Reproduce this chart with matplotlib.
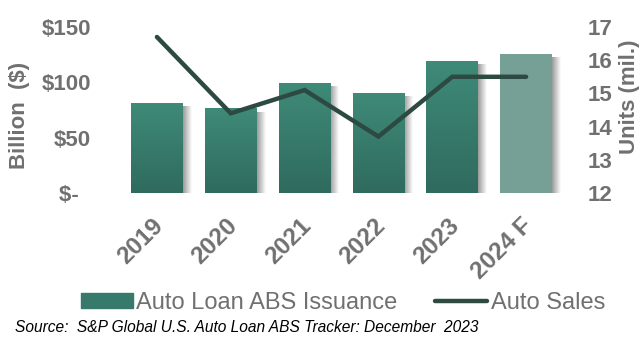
import numpy as np
import matplotlib
matplotlib.use("Agg")
import matplotlib.pyplot as plt
from matplotlib.patches import Rectangle
from matplotlib.lines import Line2D
from matplotlib.colors import LinearSegmentedColormap
from matplotlib.transforms import ScaledTranslation

years = ["2019", "2020", "2021", "2022", "2023", "2024 F"]
issuance = [81, 76, 99, 90, 119, 125]
auto_sales = [16.7, 14.4, 15.1, 13.7, 15.5, 15.5]
left_ticks = [0, 50, 100, 150]
left_labels = ["$-  ", "$50", "$100", "$150"]
right_ticks = [12, 13, 14, 15, 16, 17]

plt.rcParams['font.family'] = ['Liberation Sans', 'DejaVu Sans']
gray = '#707070'

W, H = 642, 340
fig = plt.figure(figsize=(6.42, 3.4), dpi=100)
ax = fig.add_axes([120 / W, 1 - 193 / H, (563 - 120) / W, (193 - 27) / H])
x = np.arange(len(years))
width = 0.7

bars = ax.bar(x, issuance, width=width, color='none', zorder=2)
cmap_dark = LinearSegmentedColormap.from_list('g', ['#2f6b5e', '#3f8a78'])
cmap_fc = LinearSegmentedColormap.from_list('f', ['#76a096', '#76a096'])
cmap_sh = LinearSegmentedColormap.from_list('s', ['#9a9a9a', '#ffffff'])
grad_v = np.linspace(0, 1, 256).reshape(-1, 1)
grad_h = np.linspace(0, 1, 256).reshape(1, -1)
for i, b in enumerate(bars):
    bx, bw, bh = b.get_x(), b.get_width(), b.get_height()
    ax.imshow(grad_h, extent=[bx + bw, bx + bw + 0.12, 0, bh - 3], origin='lower',
              aspect='auto', cmap=cmap_sh, zorder=1, interpolation='bilinear')
    cm = cmap_fc if i == len(years) - 1 else cmap_dark
    ax.imshow(grad_v, extent=[bx, bx + bw, 0, bh], origin='lower', aspect='auto',
              cmap=cm, zorder=2, interpolation='bilinear')

ax.set_xlim(-0.5, len(years) - 0.5)
ax.set_ylim(0, 150)
ax.set_yticks(left_ticks)
ax.set_yticklabels(left_labels)
ax.set_xticks(x)
ax.set_xticklabels(years, rotation=45, ha='right', rotation_mode='anchor')
ax.tick_params(axis='y', length=0, labelsize=16, labelcolor=gray, pad=21)
ax.tick_params(axis='x', length=0, labelsize=17.5, labelcolor=gray, pad=15)
shift = ScaledTranslation(-0.05, 0, fig.dpi_scale_trans)
for lab in ax.get_xticklabels():
    lab.set_transform(lab.get_transform() + shift)
for lab in ax.get_xticklabels() + ax.get_yticklabels():
    lab.set_fontweight('bold')
for s in ax.spines.values():
    s.set_visible(False)

ax2 = ax.twinx()
ax2.plot(x, auto_sales, color='#2d4a42', lw=3.2, solid_capstyle='round',
         solid_joinstyle='miter', zorder=5)
ax2.set_ylim(12, 17)
ax2.set_yticks(right_ticks)
ax2.tick_params(length=0, labelsize=16, labelcolor=gray, pad=18)
for lab in ax2.get_yticklabels():
    lab.set_fontweight('bold')
for s in ax2.spines.values():
    s.set_visible(False)

fig.text(20 / W, 1 - 115 / H, 'Billion  ($)', rotation=90, fontsize=16,
         fontweight='bold', color=gray, ha='center', va='center')
fig.text(630 / W, 1 - 97 / H, 'Units (mil.)', rotation=90, fontsize=16,
         fontweight='bold', color=gray, ha='center', va='center')

handles = [Rectangle((0, 0), 1, 1, color='#37796a'),
           Line2D([0], [0], color='#2d4a42', lw=3.2, solid_capstyle='round')]
fig.legend(handles, ['Auto Loan ABS Issuance', 'Auto Sales'], loc='center',
           bbox_to_anchor=(343 / W, 1 - 303 / H), ncol=2, frameon=False, fontsize=17,
           labelcolor=gray, handlelength=2.2, handletextpad=0.15, columnspacing=1.6,
           handleheight=0.6)

fig.text(15 / W, 1 - 327 / H, 'Source:  S&P Global U.S. Auto Loan ABS Tracker: December  2023',
         fontsize=11.2, style='italic', color='black', va='center')

fig.savefig('out.png', dpi=100)
